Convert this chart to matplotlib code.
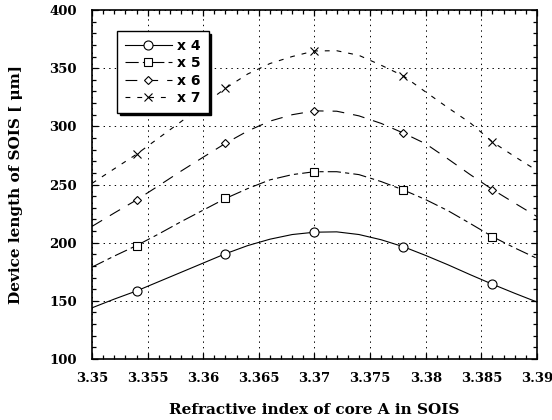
import numpy as np
import matplotlib
matplotlib.use("Agg")
import matplotlib.pyplot as plt
from matplotlib.ticker import MultipleLocator

# refractive index of core A (curve sampled every 0.002)
n_core = [3.350, 3.352, 3.354, 3.356, 3.358, 3.360, 3.362, 3.364, 3.366, 3.368, 3.370,
          3.372, 3.374, 3.376, 3.378, 3.380, 3.382, 3.384, 3.386, 3.388, 3.390]

# device length [um]
len_x4 = [144, 151.5, 158.5, 166.5, 174.5, 182.5, 190.5, 197.5, 203, 207, 209,
          209.3, 207, 202.5, 196.5, 189, 181, 172.5, 164.3, 156.5, 149]
len_x5 = [179, 188.5, 197.5, 207.5, 218, 228, 238, 246.5, 254, 258.5, 261,
          261, 258.5, 252.5, 245.3, 237, 227.5, 216.5, 205.2, 195.5, 186.5]
len_x6 = [214, 225.5, 236.7, 249, 261.5, 273.5, 285.4, 296, 304.5, 310, 313.3,
          313, 309, 302.5, 294.2, 285, 272, 258.5, 245.7, 234, 222.5]
len_x7 = [251, 263.5, 276, 290, 304, 318.5, 332.7, 345, 354, 360, 364.8,
          365, 361, 352.5, 343.3, 329.5, 316, 303, 286.6, 274, 262]

series_labels = ["x 4", "x 5", "x 6", "x 7"]
marker_idx = [2, 6, 10, 14, 18]   # markers at 3.354, 3.362, 3.370, 3.378, 3.386

xtick_vals = [3.35, 3.355, 3.36, 3.365, 3.37, 3.375, 3.38, 3.385, 3.39]
xtick_labels = ["3.35", "3.355", "3.36", "3.365", "3.37", "3.375", "3.38", "3.385", "3.39"]
ytick_vals = [100, 150, 200, 250, 300, 350, 400]

plt.rcParams["lines.scale_dashes"] = False
serif = "DejaVu Serif"

fig = plt.figure(figsize=(5.52, 4.2), dpi=100)
ax = fig.add_axes([0.1667, 0.1452, 0.806, 0.831])

styles = [
    dict(linestyle="-", marker="o", ms=6.5),
    dict(dashes=(9.5, 3, 3, 3), marker="s", ms=5.8),
    dict(dashes=(8.5, 6.5), marker="D", ms=4.3),
    dict(dashes=(3.5, 5), marker="x", ms=6),
]
handles = []
for vals, lab, st in zip([len_x4, len_x5, len_x6, len_x7], series_labels, styles):
    ln, = ax.plot(n_core, vals, color="black", lw=0.8, markevery=marker_idx,
                  mfc="white", mec="black", mew=0.8, label=lab, **st)
    handles.append(ln)

ax.set_xlim(3.35, 3.39)
ax.set_ylim(100, 400)
ax.set_xticks(xtick_vals)
ax.set_xticklabels(xtick_labels)
ax.set_yticks(ytick_vals)
ax.xaxis.set_minor_locator(MultipleLocator(0.001))
ax.yaxis.set_minor_locator(MultipleLocator(10))
ax.tick_params(which="both", direction="in", top=True, right=True, width=0.9)
ax.tick_params(which="major", length=4.5)
ax.tick_params(which="minor", length=3)
ax.tick_params(axis="x", which="major", pad=9)
ax.tick_params(axis="y", which="major", pad=11)
for lbl in ax.get_xticklabels() + ax.get_yticklabels():
    lbl.set_fontfamily(serif)
    lbl.set_fontweight("bold")
    lbl.set_fontsize(9.5)

ax.grid(True, which="major", color="black", lw=0.7, linestyle=(0, (1, 3)))
for sp in ax.spines.values():
    sp.set_linewidth(1.2)

ax.set_xlabel("Refractive index of core A in SOIS", fontfamily=serif,
              fontweight="bold", fontsize=11)
ax.set_ylabel("Device length of SOIS [ \u03bcm]", fontfamily=serif,
              fontweight="bold", fontsize=11)
ax.xaxis.set_label_coords(0.5, -0.125)
ax.yaxis.set_label_coords(-0.155, 0.5)

leg = ax.legend(handles=handles, loc="upper left", bbox_to_anchor=(0.056, 0.94),
                borderaxespad=0, handlelength=3.4, handletextpad=0.4,
                labelspacing=0.25, borderpad=0.55, fancybox=False, framealpha=1,
                edgecolor="black", shadow={"color": "black", "alpha": 1},
                prop={"family": "DejaVu Sans", "weight": "bold", "size": 10})
leg.get_frame().set_linewidth(1.0)

fig.savefig("out.png", dpi=100)
